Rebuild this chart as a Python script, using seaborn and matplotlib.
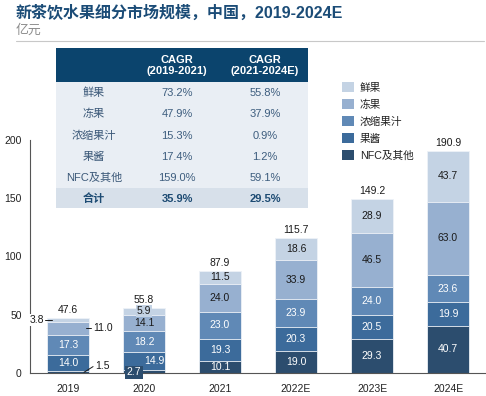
import matplotlib
matplotlib.use("Agg")
import matplotlib.pyplot as plt
from matplotlib.patches import Rectangle, Patch
from matplotlib.lines import Line2D
import seaborn as sns
import numpy as np
import pandas as pd

# data
years = ["2019", "2020", "2021", "2022E", "2023E", "2024E"]
nfc = [1.5, 2.7, 10.1, 19.0, 29.3, 40.7]
jam = [14.0, 14.9, 19.3, 20.3, 20.5, 19.9]
juice = [17.3, 18.2, 23.0, 23.9, 24.0, 23.6]
frozen = [11.0, 14.1, 24.0, 33.9, 46.5, 63.0]
fresh = [3.8, 5.9, 11.5, 18.6, 28.9, 43.7]
totals = [47.6, 55.8, 87.9, 115.7, 149.2, 190.9]

series_names = ["NFC及其他", "果酱", "浓缩果汁", "冻果", "鲜果"]
series_vals = [nfc, jam, juice, frozen, fresh]
colors = ["#2c4d6e", "#3c6b9b", "#6089b6", "#97b0d0", "#c4d3e4"]
label_colors = ["white", "white", "white", "#1a1a1a", "#1a1a1a"]

table_rows = ["鲜果", "冻果", "浓缩果汁", "果酱", "NFC及其他", "合计"]
cagr_1921 = ["73.2%", "47.9%", "15.3%", "17.4%", "159.0%", "35.9%"]
cagr_2124 = ["55.8%", "37.9%", "0.9%", "1.2%", "59.1%", "29.5%"]

sns.set_style("white")
plt.rcParams["font.family"] = ["Liberation Sans", "Noto Sans CJK SC"]

W, H = 486, 396
fig = plt.figure(figsize=(W / 100, H / 100), dpi=100)


def fx(x):
    return x / W


def fy(y):
    return 1 - y / H


ax = fig.add_axes([fx(30), fy(373), fx(456), (373 - 140) / H])

df = pd.DataFrame({"year": years})
cum = np.cumsum(np.array(series_vals), axis=0)
# draw cumulative bars from the top layer down so they stack
for i in range(len(series_names) - 1, -1, -1):
    df["v"] = cum[i]
    sns.barplot(data=df, x="year", y="v", order=years, color=colors[i],
                width=0.55, edgecolor="#eef2f7", linewidth=0.6, ax=ax,
                saturation=1)

ax.set_xlim(-0.5, 5.5)
ax.set_ylim(0, 200)
ax.set_yticks([0, 50, 100, 150, 200])
ax.set_xlabel("")
ax.set_ylabel("")
for s in ["top", "right"]:
    ax.spines[s].set_visible(False)
ax.spines["left"].set_color("#555555")
ax.spines["bottom"].set_color("#555555")
ax.spines["left"].set_linewidth(0.8)
ax.spines["bottom"].set_linewidth(0.8)
ax.tick_params(axis="y", length=3, width=0.8, color="#555555", labelsize=7.5,
               labelcolor="#222222", pad=3)
ax.tick_params(axis="x", length=0, labelsize=7.5, labelcolor="#222222", pad=8)

lab_fs = 7.5
special = {(0, 0), (0, 3), (0, 4), (1, 0), (1, 1), (1, 4)}
for j in range(len(years)):
    for i in range(len(series_names)):
        if (j, i) in special:
            continue
        v = series_vals[i][j]
        ax.text(j, cum[i][j] - v / 2, f"{v:.1f}", ha="center", va="center",
                fontsize=lab_fs, color=label_colors[i])
    ax.annotate(f"{totals[j]:.1f}", (j, totals[j]), xytext=(0, 2),
                textcoords="offset points", ha="center", va="bottom",
                fontsize=lab_fs, color="#1a1a1a")

# small segments: labels moved outside with leader lines
ax.text(0.36, 6.0, f"{nfc[0]:.1f}", ha="left", va="center", fontsize=lab_fs, color="#1a1a1a")
ax.plot([0.21, 0.33], [0.6, 5.5], color="#1a1a1a", lw=0.7, clip_on=False)
y_fr = cum[3][0] - frozen[0] / 2
ax.text(0.33, y_fr, f"{frozen[0]:.1f}", ha="left", va="center", fontsize=lab_fs, color="#1a1a1a")
ax.plot([0.24, 0.30], [y_fr, y_fr], color="#1a1a1a", lw=0.7)
y_fs = cum[4][0] - fresh[0] / 2
ax.text(-0.32, y_fs, f"{fresh[0]:.1f}", ha="right", va="center", fontsize=lab_fs, color="#1a1a1a",
        bbox=dict(boxstyle="square,pad=0.1", fc="white", ec="none"))
ax.plot([-0.30, -0.21], [y_fs, y_fs], color="#1a1a1a", lw=0.7)
ax.text(0.87, 0.8, f"{nfc[1]:.1f}", ha="center", va="center", fontsize=lab_fs, color="white",
        bbox=dict(boxstyle="square,pad=0.15", fc=colors[0], ec="none"), clip_on=False)
ax.text(1.14, cum[1][1] - jam[1] / 2, f"{jam[1]:.1f}", ha="center", va="center",
        fontsize=lab_fs, color="white")
ax.text(1, cum[4][1] - fresh[1] / 2, f"{fresh[1]:.1f}", ha="center", va="center",
        fontsize=lab_fs, color="#1a1a1a",
        bbox=dict(boxstyle="square,pad=0.1", fc=colors[4], ec="none"))

# legend
handles = [Patch(facecolor=colors[i], edgecolor="none", label=series_names[i])
           for i in range(len(series_names) - 1, -1, -1)]
fig.legend(handles=handles, loc="upper left", bbox_to_anchor=(fx(338), fy(78)),
           frameon=False, fontsize=7.7, handlelength=1.05, handleheight=1.05,
           handletextpad=0.6, labelspacing=0.6, labelcolor="#222222",
           borderaxespad=0)

# title and subtitle
fig.text(fx(16), fy(13), "新茶饮水果细分市场规模，中国，2019-2024E", fontsize=11.5,
         fontweight="bold", color="#1b4c77", ha="left", va="center")
fig.text(fx(16), fy(31), "亿元", fontsize=9.3, color="#8c8c8c", ha="left", va="center")
fig.add_artist(Line2D([fx(16), fx(484)], [fy(41), fy(41)], color="#c8c8c8", lw=0.8,
                      transform=fig.transFigure))

# CAGR table
tx0, tx1 = 56, 308
tfs = 8
fig.add_artist(Rectangle((fx(tx0), fy(82)), fx(tx1 - tx0), (82 - 48) / H,
                         transform=fig.transFigure, fc="#0b446d", ec="none"))
fig.add_artist(Rectangle((fx(tx0), fy(188)), fx(tx1 - tx0), (188 - 82) / H,
                         transform=fig.transFigure, fc="#e9eef4", ec="none"))
fig.add_artist(Rectangle((fx(tx0), fy(208)), fx(tx1 - tx0), (208 - 188) / H,
                         transform=fig.transFigure, fc="#d7e0ea", ec="none"))
col_x = [94, 177, 265]
fig.text(fx(col_x[1]), fy(65.5), "CAGR\n(2019-2021)", ha="center", va="center",
         fontsize=tfs, fontweight="bold", color="white", linespacing=1.2)
fig.text(fx(col_x[2]), fy(65.5), "CAGR\n(2021-2024E)", ha="center", va="center",
         fontsize=tfs, fontweight="bold", color="white", linespacing=1.2)
row_y = [93, 114, 136, 157, 178, 199]
for k, name in enumerate(table_rows):
    last = k == len(table_rows) - 1
    fw = "bold" if last else "normal"
    c_lab = "#1d4b73" if last else "#3b5878"
    c_val = "#1d4b73" if last else "#3d5d7e"
    fig.text(fx(col_x[0]), fy(row_y[k]), name, ha="center", va="center",
             fontsize=tfs, fontweight=fw, color=c_lab)
    fig.text(fx(col_x[1]), fy(row_y[k]), cagr_1921[k], ha="center", va="center",
             fontsize=tfs, fontweight=fw, color=c_val)
    fig.text(fx(col_x[2]), fy(row_y[k]), cagr_2124[k], ha="center", va="center",
             fontsize=tfs, fontweight=fw, color=c_val)

fig.savefig("out.png", dpi=100)
